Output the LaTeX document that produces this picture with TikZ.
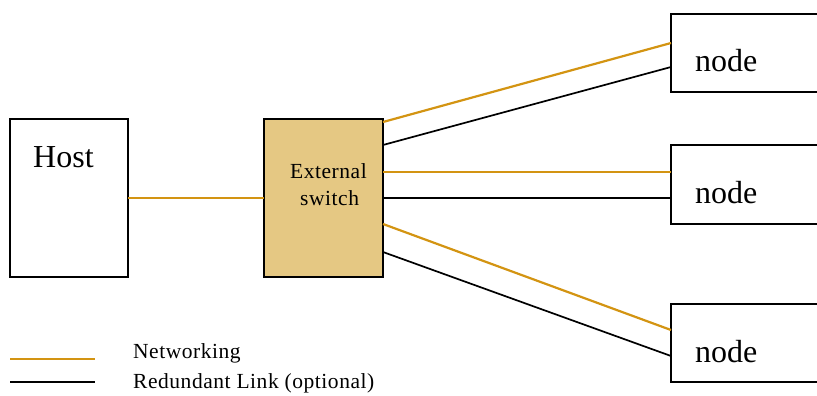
\documentclass[tikz,border=0pt]{standalone}
\usepackage{fontspec}
\setmainfont{Liberation Serif}
\newfontfamily\spacedserif[LetterSpace=2.5]{Liberation Serif}
\definecolor{netorange}{RGB}{211,148,18}
\definecolor{switchfill}{RGB}{229,200,131}
\begin{document}
\begin{tikzpicture}[x=1pt,y=-1pt,
  box/.style={draw=black,line width=1.8pt,inner sep=0pt,outer sep=0pt},
  net/.style={draw=netorange,line width=2.2pt},
  red/.style={draw=black,line width=1.7pt},
  big/.style={font=\fontsize{32}{36}\selectfont,inner sep=0pt,anchor=base west},
  small/.style={font=\spacedserif\fontsize{21.5}{27}\selectfont,inner sep=0pt,anchor=base west}]
\useasboundingbox (0,0) rectangle (817,396);
\clip (0,0) rectangle (817,396);

% boxes
\node[box,minimum width=118pt,minimum height=158pt,anchor=north west] (host) at (10,119) {};
\node[box,fill=switchfill,minimum width=119pt,minimum height=158pt,anchor=north west] (sw) at (264,119) {};
\node[box,minimum width=180pt,minimum height=78pt,anchor=north west] (n1) at (671,14) {};
\node[box,minimum width=180pt,minimum height=79pt,anchor=north west] (n2) at (671,145) {};
\node[box,minimum width=180pt,minimum height=78pt,anchor=north west] (n3) at (671,304) {};

% labels
\node[big] (hostlbl) at (33,167) {Host};
\node[small] (swlbl1) at (290,178) {External};
\node[small] (swlbl2) at (300,205) {switch};
\node[big] (n1lbl) at (695,72) {node};
\node[big] (n2lbl) at (695,203) {node};
\node[big] (n3lbl) at (695,362) {node};

% host to switch
\draw[net] (host.east) -- (sw.west);

% switch to nodes
\draw[net] ([yshift=-3pt]sw.north east) -- ([yshift=-29pt]n1.north west);
\draw[red] ([yshift=-26pt]sw.north east) -- ([yshift=-53pt]n1.north west);
\draw[net] ([yshift=-53pt]sw.north east) -- ([yshift=-27pt]n2.north west);
\draw[red] ([yshift=-79pt]sw.north east) -- ([yshift=-53pt]n2.north west);
\draw[net] ([yshift=-105pt]sw.north east) -- ([yshift=-26pt]n3.north west);
\draw[red] ([yshift=-133pt]sw.north east) -- ([yshift=-52pt]n3.north west);

% legend
\coordinate (lg1a) at (10,359);
\coordinate (lg1b) at (95,359);
\coordinate (lg2a) at (10,382);
\coordinate (lg2b) at (95,382);
\draw[net] (lg1a) -- (lg1b);
\draw[red] (lg2a) -- (lg2b);
\node[small] (lgt1) at (133,358) {Networking};
\node[small] (lgt2) at (133,388) {Redundant Link (optional)};
\end{tikzpicture}
\end{document}
